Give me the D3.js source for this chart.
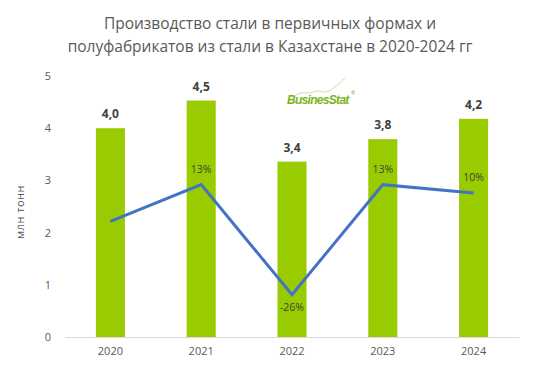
<!DOCTYPE html>
<html>
<head>
<meta charset="utf-8">
<script src="https://cdn.jsdelivr.net/npm/d3@7"></script>
<style>
  body { margin: 0; background: #fff; }
  text { font-family: "Open Sans", "Noto Sans", sans-serif; }
</style>
</head>
<body>
<div id="chart"></div>
<script>
// chart data
const years = ["2020", "2021", "2022", "2023", "2024"];
const output = [4.0, 4.53, 3.36, 3.79, 4.18];       // млн тонн
const outputLabels = ["4,0", "4,5", "3,4", "3,8", "4,2"];
const growth = [0, 13, -26, 13, 10];                 // % к предыдущему году
const growthLabels = ["", "13%", "-26%", "13%", "10%"];
const yTicks = [0, 1, 2, 3, 4, 5];

const width = 540;
const height = 374;

const svg = d3.select("#chart")
    .append("svg")
    .attr("width", width)
    .attr("height", height);

// title
const title = svg.append("text")
    .attr("text-anchor", "middle")
    .attr("fill", "#595959")
    .style("font-size", "15.5px");
title.append("tspan").attr("x", 270).attr("y", 29).text("Производство стали в первичных формах и");
title.append("tspan").attr("x", 270).attr("y", 52).text("полуфабрикатов из стали в Казахстане в 2020-2024 гг");

const x = d3.scaleBand()
    .domain(years)
    .range([65, 519])
    .paddingInner(0.68)
    .paddingOuter(0.34);

const y = d3.scaleLinear()
    .domain([0, 5])
    .range([337, 76]);

// secondary (hidden) axis for growth line
const y2 = d3.scaleLinear()
    .domain([-41, 51.5])
    .range([337, 76]);

// left axis, no line
const yAxis = svg.append("g")
    .attr("transform", "translate(52,0)")
    .call(d3.axisLeft(y).tickValues(yTicks).tickFormat(d3.format("d")).tickSize(0).tickPadding(0));
yAxis.select(".domain").remove();
yAxis.selectAll("text")
    .attr("fill", "#595959")
    .attr("text-anchor", "middle")
    .attr("dx", "-4")
    .style("font-size", "11px")
    .style("font-family", "'Open Sans', sans-serif");

svg.append("text")
    .attr("transform", "translate(24,212) rotate(-90)")
    .attr("text-anchor", "middle")
    .attr("fill", "#595959")
    .style("font-size", "11px")
    .style("letter-spacing", "0.5px")
    .text("млн  тонн");

// bars
svg.selectAll("rect.bar")
    .data(output)
    .enter().append("rect")
    .attr("class", "bar")
    .attr("x", (d, i) => x(years[i]))
    .attr("width", x.bandwidth())
    .attr("y", d => y(d))
    .attr("height", d => y(0) - y(d))
    .attr("fill", "#99cc00");

// baseline
const xAxis = svg.append("g")
    .attr("transform", "translate(0,337)")
    .call(d3.axisBottom(x).tickSize(0).tickPadding(10));
xAxis.select(".domain").attr("stroke", "#d9d9d9").attr("stroke-width", 1);
xAxis.selectAll("text")
    .attr("fill", "#595959")
    .style("font-size", "11px")
    .style("font-family", "'Open Sans', sans-serif");

// bar value labels
svg.selectAll("text.val")
    .data(output)
    .enter().append("text")
    .attr("class", "val")
    .attr("x", (d, i) => x(years[i]) + x.bandwidth() / 2)
    .attr("y", d => y(d) - 10)
    .attr("text-anchor", "middle")
    .attr("fill", "#404040")
    .style("font-size", "12px")
    .style("font-weight", "bold")
    .text((d, i) => outputLabels[i]);

// growth line
const line = d3.line()
    .x((d, i) => x(years[i]) + x.bandwidth() / 2)
    .y(d => y2(d));

svg.append("path")
    .datum(growth)
    .attr("d", line)
    .attr("fill", "none")
    .attr("stroke", "#4472c4")
    .attr("stroke-width", 3)
    .attr("stroke-linejoin", "miter");

svg.selectAll("text.gr")
    .data(growth)
    .enter().append("text")
    .attr("class", "gr")
    .attr("x", (d, i) => x(years[i]) + x.bandwidth() / 2)
    .attr("y", d => d < 0 ? y2(d) + 16 : y2(d) - 12)
    .attr("text-anchor", "middle")
    .attr("fill", "#404040")
    .style("font-size", "10.5px")
    .text((d, i) => growthLabels[i]);

// logo
const logo = svg.append("g").attr("transform", "translate(287,104)");
logo.append("path")
    .attr("d", "M8,-8 C14,-14 20,-9 26,-12 C32,-15 36,-10 42,-13 C48,-17 52,-20 58,-26")
    .attr("fill", "none")
    .attr("stroke", "#b5d98a")
    .attr("stroke-width", 0.8);
logo.append("text")
    .attr("x", 0)
    .attr("y", 0)
    .attr("fill", "#7ab51d")
    .style("font-size", "12px")
    .style("font-weight", "bold")
    .style("font-style", "italic")
    .style("letter-spacing", "-0.7px")
    .style("font-family", "'Liberation Sans', sans-serif")
    .text("BusinesStat");
logo.append("text")
    .attr("x", 64)
    .attr("y", -9)
    .attr("fill", "#7ab51d")
    .style("font-size", "5px")
    .text("®");
</script>
</body>
</html>
